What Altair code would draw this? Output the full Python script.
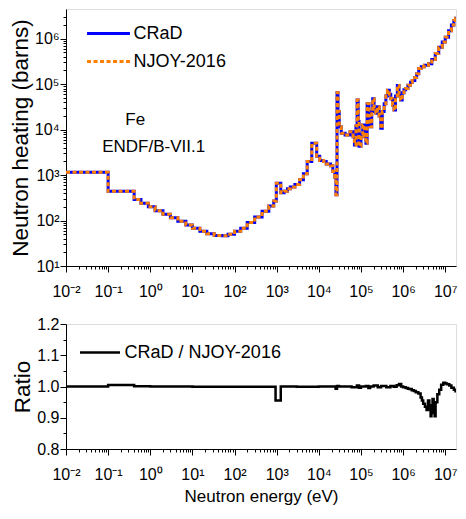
import altair as alt
import pandas as pd

# ---------------- data ----------------
series_names = ["CRaD", "NJOY-2016"]
series_colors = ["#0000ff", "#ff8000"]
ratio_label = "CRaD / NJOY-2016"

# neutron heating (bin lower edges, step-after)
energy = [0.01, 0.1, 0.414, 0.6, 0.9, 1.3, 2, 3, 4.5, 7, 10, 15, 22, 33, 50, 70,
          100, 140, 200, 300, 450, 650, 850, 980, 1250, 1500, 1800, 2100, 2700,
          3500, 4300, 5300, 6800, 8900, 10500, 13000, 15000, 19000, 21500, 24000,
          25500, 27000, 28500, 30500, 34000, 42000, 55000, 65000, 70000, 76000,
          81000, 86000, 90000, 100000, 110000, 120000, 131000, 140000, 155000,
          165000, 180000, 190000, 205000, 226000, 245000, 270000, 295000, 320000,
          355000, 390000, 425000, 470000, 510000, 560000, 610000, 660000, 730000,
          800000, 870000, 950000, 1.05e6, 1.15e6, 1.3e6, 1.5e6, 1.65e6, 1.9e6,
          2.1e6, 2.35e6, 2.7e6, 3.2e6, 4.0e6, 4.8e6, 5.8e6, 7e6, 8.5e6, 1e7,
          1.2e7, 1.4e7, 1.6e7, 1.75e7, 1.8e7]
heating = [1150, 440, 290, 240, 200, 165, 138, 115, 96, 80, 68, 58, 51, 47, 46, 50,
           58, 68, 90, 120, 160, 210, 270, 660, 410, 440, 500, 550, 620,
           790, 1070, 2000, 5000, 2600, 2100, 2000, 1750, 1600, 1200, 900,
           370, 65000, 25000, 11500, 8300, 7600, 9000, 7000, 4600, 12000,
           45000, 15000, 4300, 8000, 12600, 7000, 5000, 37000, 20000,
           11500, 25000, 48000, 30000, 23000, 32000, 20000, 10700, 25000,
           37000, 55000, 73000, 60000, 48000, 35000, 27000, 55000, 94000,
           60000, 45000, 65000, 75000, 80000, 95000, 110000, 120000, 140000,
           170000, 220000, 240000, 260000, 280000, 350000, 470000, 650000, 850000, 1.07e6,
           1.5e6, 2.0e6, 2.5e6, 2.8e6, 2.8e6]

# ratio CRaD / NJOY-2016 (step-after)
ratio_energy = [0.01, 0.1, 0.414, 1, 10, 940, 1250, 3000, 10000, 25000, 27000, 30000,
                60000, 80000, 90000, 100000, 130000, 150000, 165000, 200000, 250000,
                300000, 400000, 500000, 600000, 700000, 800000, 900000, 1.0e6, 1.15e6,
                1.3e6, 1.4e6, 1.6e6, 1.8e6, 2.0e6, 2.3e6, 2.6e6, 2.8e6, 3.0e6, 3.3e6,
                3.6e6, 3.9e6, 4.2e6, 4.5e6, 4.7e6, 5.0e6, 5.3e6, 5.6e6, 5.9e6, 6.5e6,
                7.2e6, 8.0e6, 9.0e6, 1.0e7, 1.1e7, 1.25e7, 1.4e7, 1.6e7, 1.75e7, 1.8e7]
ratio_values = [1.0, 1.005, 1.001, 1.0, 0.999, 0.955, 1.0, 0.999, 1.0, 0.993, 1.002, 1.0,
                0.998, 1.003, 0.996, 1.0, 1.002, 0.995, 1.0, 1.003, 0.998,
                1.002, 0.998, 1.002, 0.999, 1.004, 1.008, 1.0, 0.998, 0.995,
                0.993, 0.992, 0.988, 0.986, 0.982, 0.978, 0.965, 0.955, 0.945, 0.935,
                0.925, 0.955, 0.93, 0.905, 0.94, 0.96, 0.915, 0.905, 0.95, 0.975,
                0.99, 1.006, 1.012, 1.01, 1.007, 1.003, 0.996, 0.99, 0.985, 0.985]

annotation_text = ["Fe", "ENDF/B-VII.1"]
annotation_energy = [0.44, 1.2]
annotation_heating = [16200, 4200]

x_domain = [0.01, 1.8e7]
y_domain = [10, 4.5e6]
ratio_domain = [0.8, 1.2]

# ---------------- tables ----------------
df_crad = pd.DataFrame({"energy": energy, "heating": heating, "series": series_names[0]})
df_njoy = pd.DataFrame({"energy": energy, "heating": heating, "series": series_names[1]})
df_ratio = pd.DataFrame({"energy": ratio_energy, "ratio": ratio_values, "label": ratio_label})
df_ann = pd.DataFrame({"energy": annotation_energy, "heating": annotation_heating,
                       "text": annotation_text})

# tick positions (top minor tick left out so its empty label does not pad the chart)
x_ticks = [k * 10.0 ** e for e in range(-2, 8) for k in range(1, 10) if k * 10.0 ** e <= x_domain[1]]
y_ticks = [k * 10.0 ** e for e in range(1, 7) for k in range(1, 10) if k * 10.0 ** e <= 3.5e6]
r_ticks = [0.8, 0.85, 0.9, 0.95, 1.0, 1.05, 1.1, 1.15, 1.2]

FONT = "Liberation Sans"
LOGT = "abs(log(datum.value)/LN10 - round(log(datum.value)/LN10)) < 0.001"
SUP = "['\u207b\u00b2','\u207b\u00b9','\u2070','\u00b9','\u00b2','\u00b3','\u2074','\u2075','\u2076','\u2077']"
log_label = f"{LOGT} ? '10' + {SUP}[round(log(datum.value)/LN10) + 2] : ''"
RT = "abs(datum.value*10 - round(datum.value*10)) < 0.001"
ratio_label_expr = f"{RT} ? format(datum.value, '.1f') : ''"

W = 390
DASH = [4, 2.5]

def x_axis(title=None):
    kw = dict(values=x_ticks, labelExpr=log_label,
              tickSize={"condition": {"test": LOGT, "value": 6}, "value": 3},
              labelFontSize=16, labelPadding=11, labelOverlap=False, labelFlush=False,
              grid=False, domainColor="black", tickColor="black", labelColor="black",
              labelFont=FONT)
    if title:
        kw.update(title=title, titleFontSize=17, titleFontWeight="normal",
                  titleFont=FONT, titlePadding=6, titleColor="black")
    else:
        kw.update(title=None)
    return alt.Axis(**kw)

y_axis_top = alt.Axis(values=y_ticks, labelExpr=log_label,
                      tickSize={"condition": {"test": LOGT, "value": 6}, "value": 3},
                      labelFontSize=16, labelPadding=1, labelOverlap=False, labelFlush=False,
                      grid=False, domainColor="black", tickColor="black", labelColor="black",
                      labelFont=FONT, title="Neutron heating (barns)", titleFontSize=22.5,
                      titleFontWeight="normal", titleFont=FONT, titlePadding=2, titleColor="black")

y_axis_ratio = alt.Axis(values=r_ticks, labelExpr=ratio_label_expr,
                        tickSize={"condition": {"test": RT, "value": 6}, "value": 3},
                        labelFontSize=16, labelPadding=1, labelOverlap=False, labelFlush=False,
                        grid=False, domainColor="black", tickColor="black", labelColor="black",
                        labelFont=FONT, title="Ratio", titleFontSize=22.5,
                        titleFontWeight="normal", titleFont=FONT, titlePadding=2, titleColor="black")

x_scale = alt.Scale(type="log", domain=x_domain, nice=False)
y_scale = alt.Scale(type="log", domain=y_domain, nice=False)


def series_legend(y, dash):
    return alt.Legend(orient="none", legendX=28, legendY=y, title=None,
                      symbolType="M-1.65,0H1.65", symbolSize=676, symbolStrokeWidth=3,
                      symbolDash=dash, labelFontSize=18, labelFont=FONT, labelColor="black",
                      labelOffset=10.5, padding=0)


crad_line = alt.Chart(df_crad).mark_line(interpolate="step-after", strokeWidth=3, clip=True).encode(
    x=alt.X("energy:Q", scale=x_scale, axis=x_axis()),
    y=alt.Y("heating:Q", scale=y_scale, axis=y_axis_top),
    color=alt.Color("series:N", scale=alt.Scale(domain=[series_names[0]], range=[series_colors[0]]),
                    legend=series_legend(10, [1, 0])),
)

njoy_line = alt.Chart(df_njoy).mark_line(interpolate="step-after", strokeWidth=3, clip=True,
                                         strokeDash=DASH).encode(
    x=alt.X("energy:Q", scale=x_scale),
    y=alt.Y("heating:Q", scale=y_scale),
    color=alt.Color("series:N", scale=alt.Scale(domain=[series_names[1]], range=[series_colors[1]]),
                    legend=series_legend(38, DASH)),
)

top_text = alt.Chart(df_ann).mark_text(fontSize=17, font=FONT, color="black",
                                       align="center", baseline="middle").encode(
    x=alt.X("energy:Q", scale=x_scale),
    y=alt.Y("heating:Q", scale=y_scale),
    text="text:N",
)

top = alt.layer(crad_line, njoy_line, top_text).resolve_scale(color="independent").properties(
    width=W, height=257)

ratio_legend = alt.Legend(orient="none", legendX=22.5, legendY=17, title=None,
                          symbolType="M-2,0H2", symbolSize=400, symbolStrokeWidth=2.5,
                          labelFontSize=18, labelFont=FONT, labelColor="black",
                          labelOffset=13, padding=0)

bottom = alt.Chart(df_ratio).mark_line(interpolate="step-after", strokeWidth=2.5, clip=True).encode(
    x=alt.X("energy:Q", scale=x_scale, axis=x_axis("Neutron energy (eV)")),
    y=alt.Y("ratio:Q", scale=alt.Scale(domain=ratio_domain, nice=False, zero=False),
            axis=y_axis_ratio),
    color=alt.Color("label:N", scale=alt.Scale(domain=[ratio_label], range=["black"]),
                    legend=ratio_legend),
).properties(width=W, height=125)

chart = alt.vconcat(top, bottom, spacing=15).resolve_scale(
    color="independent"
).properties(padding=0).configure_view(stroke=None).configure_axis(
    domainWidth=1.5, tickWidth=1.2).configure(font=FONT)

chart.save("out.html", embed_options={"renderer": "svg", "actions": False})
